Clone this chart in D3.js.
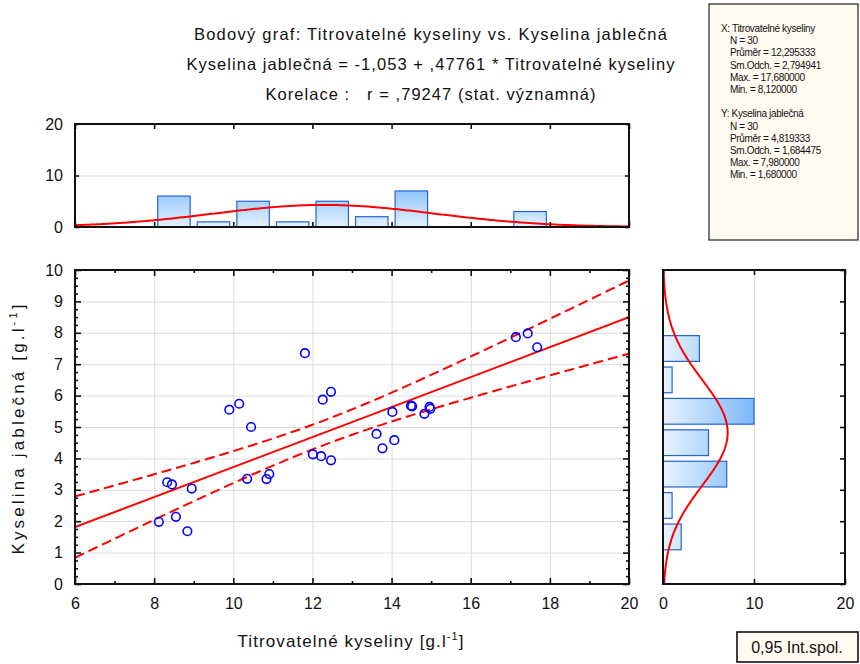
<!DOCTYPE html>
<html>
<head>
<meta charset="utf-8">
<script src="https://cdn.jsdelivr.net/npm/d3@7/dist/d3.min.js"></script>
<style>
  html, body { margin: 0; padding: 0; background: #fff; }
  svg { display: block; font-family: "Liberation Sans", Arial, sans-serif; }
  text { white-space: pre; }
</style>
</head>
<body>
<svg id="chart" width="860" height="664"></svg>
<script>
// Measured pairs: titratable acidity (x) and malic acid (y), g/l
const titrKys = [8.12, 8.33, 8.45, 8.55, 8.84, 8.95, 9.90, 10.15, 10.35, 10.45,
  10.84, 10.91, 11.81, 12.01, 12.22, 12.26, 12.47, 12.47, 13.62, 13.77,
  14.02, 14.07, 14.49, 14.52, 14.83, 14.96, 14.98, 17.14, 17.44, 17.68];
const jablKys = [1.98, 3.24, 3.17, 2.14, 1.68, 3.04, 5.55, 5.74, 3.35, 5.00,
  3.34, 3.50, 7.35, 4.13, 4.07, 5.87, 6.12, 3.94, 4.78, 4.32,
  5.48, 4.58, 5.68, 5.66, 5.42, 5.64, 5.58, 7.86, 7.98, 7.54];

// Regression and descriptive statistics
const intercept = -1.053, slope = 0.47761, corr = 0.79247;
const nObs = 30;
const xStats = { mean: 12.295333, sd: 2.794941, max: 17.68, min: 8.12 };
const yStats = { mean: 4.819333, sd: 1.684475, max: 7.98, min: 1.68 };
const tCrit = 2.0484; // t(0.975, 28)

// Histogram bins (width 1) and counts
const xBinStarts = [8, 9, 10, 11, 12, 13, 14, 15, 16, 17];
const xBinCounts = [6, 1, 5, 1, 5, 2, 7, 0, 0, 3];
const yBinStarts = [1, 2, 3, 4, 5, 6, 7];
const yBinCounts = [2, 1, 7, 5, 10, 1, 4];

// Tick values
const xMajor = [6, 8, 10, 12, 14, 16, 18, 20];
const yMajor = [0, 1, 2, 3, 4, 5, 6, 7, 8, 9, 10];
const histTicks = [0, 10, 20];

const titleLines = [
  "Bodový graf: Titrovatelné kyseliny vs. Kyselina jablečná",
  "Kyselina jablečná = -1,053 + ,47761 * Titrovatelné kyseliny",
  "Korelace :   r = ,79247 (stat. významná)"
];
const titleWidths = [473, 488, 330];
const statLines = [
  ["X: Titrovatelné kyseliny", 0],
  ["N = 30", 1], ["Průměr = 12,295333", 1], ["Sm.Odch. = 2,794941", 1],
  ["Max. = 17,680000", 1], ["Min. = 8,120000", 1],
  ["", 0],
  ["Y: Kyselina jablečná", 0],
  ["N = 30", 1], ["Průměr = 4,819333", 1], ["Sm.Odch. = 1,684475", 1],
  ["Max. = 7,980000", 1], ["Min. = 1,680000", 1]
];

const svg = d3.select("#chart");

const x = d3.scaleLinear().domain([6, 20]).range([75, 629]);
const y = d3.scaleLinear().domain([0, 10]).range([584, 270]);
const hy = d3.scaleLinear().domain([0, 20]).range([227, 124]);
const hx = d3.scaleLinear().domain([0, 20]).range([663, 845]);

const range = (a, b, s) => d3.range(a, b + s / 2, s);

// Spread a text's letters so it spans a given width
function fitWidth(sel, target) {
  const node = sel.node();
  const len = node.getComputedTextLength();
  const n = node.textContent.length;
  if (n > 1) sel.style("letter-spacing", ((target - len) / (n - 1)) + "px");
}

// Gradients for histogram bars
const defs = svg.append("defs");
const gv = defs.append("linearGradient").attr("id", "gradV")
  .attr("gradientUnits", "userSpaceOnUse")
  .attr("x1", 0).attr("x2", 0).attr("y1", hy(0)).attr("y2", hy(7.5));
gv.append("stop").attr("offset", 0).attr("stop-color", "#e3f0ff");
gv.append("stop").attr("offset", 1).attr("stop-color", "#8cc4fa");
const gh = defs.append("linearGradient").attr("id", "gradH")
  .attr("gradientUnits", "userSpaceOnUse")
  .attr("y1", 0).attr("y2", 0).attr("x1", hx(0)).attr("x2", hx(10));
gh.append("stop").attr("offset", 0).attr("stop-color", "#e8f3ff");
gh.append("stop").attr("offset", 1).attr("stop-color", "#7cb9f7");

function styleAxis(g, labels) {
  g.select(".domain").remove();
  g.selectAll(".tick line").attr("stroke", "#111").attr("stroke-width", 1.6);
  g.selectAll(".tick text").attr("fill", "#111").style("font-size", "16px");
  if (!labels) g.selectAll(".tick text").remove();
}
function gridStyle(g) {
  g.select(".domain").remove();
  g.selectAll(".tick line").attr("stroke", "#dcdcdc").attr("stroke-width", 1);
}

// ---------- Title ----------
svg.append("g").selectAll("text").data(titleLines).join("text")
  .attr("x", 431).attr("y", (d, i) => 40 + i * 30)
  .attr("text-anchor", "middle").attr("fill", "#111")
  .style("font-size", "16.5px").text(d => d)
  .each(function (d, i) { fitWidth(d3.select(this), titleWidths[i]); });

// ---------- Top histogram (x) ----------
svg.append("g").attr("transform", `translate(${x(6)},0)`)
  .call(d3.axisLeft(hy).tickValues([10]).tickSize(-(x(20) - x(6))).tickFormat(""))
  .call(gridStyle);

svg.append("g").selectAll("rect").data(xBinStarts.map((s, i) => ({ s, c: xBinCounts[i] })).filter(d => d.c > 0))
  .join("rect")
  .attr("x", d => x(d.s + 0.09)).attr("width", d => x(d.s + 0.91) - x(d.s + 0.09))
  .attr("y", d => hy(d.c)).attr("height", d => hy(0) - hy(d.c))
  .attr("fill", "url(#gradV)").attr("stroke", "#2563d6").attr("stroke-width", 1.2);

const normX = d3.range(6, 20.001, 0.05).map(v => [v,
  nObs * 1 * Math.exp(-0.5 * ((v - xStats.mean) / xStats.sd) ** 2) / (xStats.sd * Math.sqrt(2 * Math.PI))]);
svg.append("path").datum(normX)
  .attr("d", d3.line().x(d => x(d[0])).y(d => hy(d[1])))
  .attr("fill", "none").attr("stroke", "#ff0000").attr("stroke-width", 2);

svg.append("g").attr("transform", `translate(0,${hy(0)})`)
  .call(d3.axisBottom(x).tickValues(xMajor).tickSize(-5)).call(g => styleAxis(g, false));
svg.append("g").attr("transform", `translate(0,${hy(20)})`)
  .call(d3.axisTop(x).tickValues(xMajor).tickSize(-5)).call(g => styleAxis(g, false));
svg.append("g").attr("transform", `translate(${x(6)},0)`)
  .call(d3.axisLeft(hy).tickValues(histTicks).tickSize(-4).tickPadding(12)).call(g => styleAxis(g, true));
svg.append("g").attr("transform", `translate(${x(20)},0)`)
  .call(d3.axisRight(hy).tickValues(histTicks).tickSize(-4)).call(g => styleAxis(g, false));
svg.append("rect").attr("x", x(6)).attr("y", hy(20))
  .attr("width", x(20) - x(6)).attr("height", hy(0) - hy(20))
  .attr("fill", "none").attr("stroke", "#111").attr("stroke-width", 2);

// ---------- Main scatter ----------
svg.append("g").attr("transform", `translate(0,${y(0)})`)
  .call(d3.axisBottom(x).tickValues(xMajor).tickSize(-(y(0) - y(10))).tickFormat(""))
  .call(gridStyle);
svg.append("g").attr("transform", `translate(${x(6)},0)`)
  .call(d3.axisLeft(y).tickValues(yMajor).tickSize(-(x(20) - x(6))).tickFormat(""))
  .call(gridStyle);

// Confidence band for the regression line
const sxx = (nObs - 1) * xStats.sd ** 2;
const sRes = yStats.sd * Math.sqrt(1 - corr ** 2) * Math.sqrt((nObs - 1) / (nObs - 2));
const xs = d3.range(6, 20.001, 0.1);
const fit = v => intercept + slope * v;
const half = v => tCrit * sRes * Math.sqrt(1 / nObs + (v - xStats.mean) ** 2 / sxx);
const lineGen = d3.line().x(d => x(d[0])).y(d => y(d[1]));

const clip = defs.append("clipPath").attr("id", "plotClip");
clip.append("rect").attr("x", x(6)).attr("y", y(10)).attr("width", x(20) - x(6)).attr("height", y(0) - y(10));
const plot = svg.append("g").attr("clip-path", "url(#plotClip)");

plot.append("path").datum(xs.map(v => [v, fit(v) + half(v)]))
  .attr("d", lineGen).attr("fill", "none").attr("stroke", "#ff0000")
  .attr("stroke-width", 2).attr("stroke-dasharray", "10,5");
plot.append("path").datum(xs.map(v => [v, fit(v) - half(v)]))
  .attr("d", lineGen).attr("fill", "none").attr("stroke", "#ff0000")
  .attr("stroke-width", 2).attr("stroke-dasharray", "10,5");
plot.append("path").datum([[6, fit(6)], [20, fit(20)]])
  .attr("d", lineGen).attr("fill", "none").attr("stroke", "#ff0000").attr("stroke-width", 2);

plot.append("g").selectAll("circle").data(titrKys.map((v, i) => [v, jablKys[i]]))
  .join("circle")
  .attr("cx", d => x(d[0])).attr("cy", d => y(d[1])).attr("r", 4.3)
  .attr("fill", "none").attr("stroke", "#0000ff").attr("stroke-width", 1.6);

// Axes of the scatter: major and minor ticks, all inward
svg.append("g").attr("transform", `translate(0,${y(0)})`)
  .call(d3.axisBottom(x).tickValues(range(7, 19, 2)).tickSize(-3)).call(g => styleAxis(g, false));
svg.append("g").attr("transform", `translate(0,${y(0)})`)
  .call(d3.axisBottom(x).tickValues(xMajor).tickSize(-6).tickPadding(14)).call(g => styleAxis(g, true));
svg.append("g").attr("transform", `translate(0,${y(10)})`)
  .call(d3.axisTop(x).tickValues(range(7, 19, 2)).tickSize(-3)).call(g => styleAxis(g, false));
svg.append("g").attr("transform", `translate(0,${y(10)})`)
  .call(d3.axisTop(x).tickValues(xMajor).tickSize(-6)).call(g => styleAxis(g, false));
const yMinor = range(0, 10, 0.25).filter(v => Math.abs(v - Math.round(v)) > 0.01);
svg.append("g").attr("transform", `translate(${x(6)},0)`)
  .call(d3.axisLeft(y).tickValues(yMinor).tickSize(-3)).call(g => styleAxis(g, false));
svg.append("g").attr("transform", `translate(${x(6)},0)`)
  .call(d3.axisLeft(y).tickValues(yMajor).tickSize(-6).tickPadding(12)).call(g => styleAxis(g, true));
svg.append("g").attr("transform", `translate(${x(20)},0)`)
  .call(d3.axisRight(y).tickValues(yMinor).tickSize(-3)).call(g => styleAxis(g, false));
svg.append("g").attr("transform", `translate(${x(20)},0)`)
  .call(d3.axisRight(y).tickValues(yMajor).tickSize(-6)).call(g => styleAxis(g, false));
svg.append("rect").attr("x", x(6)).attr("y", y(10))
  .attr("width", x(20) - x(6)).attr("height", y(0) - y(10))
  .attr("fill", "none").attr("stroke", "#111").attr("stroke-width", 2);

// Axis titles
const xt = svg.append("text").attr("x", 351).attr("y", 647).attr("text-anchor", "middle")
  .attr("fill", "#111").style("font-size", "17px").style("letter-spacing", "1.1px");
xt.append("tspan").text("Titrovatelné kyseliny [g.l");
xt.append("tspan").attr("dy", -7).style("font-size", "11px").text("-1");
xt.append("tspan").attr("dy", 7).text("]");

const yt = svg.append("text").attr("transform", "translate(24,428) rotate(-90)")
  .attr("text-anchor", "middle").attr("fill", "#111").style("font-size", "17px");
yt.append("tspan").text("Kyselina jablečná [g.l");
yt.append("tspan").attr("dy", -7).style("font-size", "11px").text("-1");
yt.append("tspan").attr("dy", 7).text("]");
fitWidth(yt, 250);

// ---------- Right histogram (y) ----------
svg.append("g").attr("transform", `translate(0,${y(0)})`)
  .call(d3.axisBottom(hx).tickValues([10]).tickSize(-(y(0) - y(10))).tickFormat(""))
  .call(gridStyle);

svg.append("g").selectAll("rect").data(yBinStarts.map((s, i) => ({ s, c: yBinCounts[i] })))
  .join("rect")
  .attr("y", d => y(d.s + 0.91)).attr("height", d => y(d.s + 0.09) - y(d.s + 0.91))
  .attr("x", hx(0)).attr("width", d => hx(d.c) - hx(0))
  .attr("fill", "url(#gradH)").attr("stroke", "#2563d6").attr("stroke-width", 1.2);

const normY = d3.range(0, 10.001, 0.05).map(v => [v,
  nObs * 1 * Math.exp(-0.5 * ((v - yStats.mean) / yStats.sd) ** 2) / (yStats.sd * Math.sqrt(2 * Math.PI))]);
svg.append("path").datum(normY)
  .attr("d", d3.line().x(d => hx(d[1])).y(d => y(d[0])))
  .attr("fill", "none").attr("stroke", "#ff0000").attr("stroke-width", 2);

svg.append("g").attr("transform", `translate(0,${y(0)})`)
  .call(d3.axisBottom(hx).tickValues(histTicks).tickSize(-5).tickPadding(14)).call(g => styleAxis(g, true));
svg.append("g").attr("transform", `translate(0,${y(10)})`)
  .call(d3.axisTop(hx).tickValues(histTicks).tickSize(-5)).call(g => styleAxis(g, false));
svg.append("g").attr("transform", `translate(${hx(20)},0)`)
  .call(d3.axisRight(y).tickValues(yMajor).tickSize(-5)).call(g => styleAxis(g, false));
svg.append("rect").attr("x", hx(0)).attr("y", y(10))
  .attr("width", hx(20) - hx(0)).attr("height", y(0) - y(10))
  .attr("fill", "none").attr("stroke", "#111").attr("stroke-width", 2);

// ---------- Statistics box ----------
svg.append("rect").attr("x", 709).attr("y", 4).attr("width", 149).attr("height", 236)
  .attr("fill", "#fffbf0").attr("stroke", "#222").attr("stroke-width", 1.2);
svg.append("g").selectAll("text").data(statLines).join("text")
  .attr("x", d => d[1] ? 730 : 721).attr("y", (d, i) => 32 + i * 12.2)
  .attr("fill", "#111").style("font-size", "10px").style("letter-spacing", "-0.35px")
  .text(d => d[0]);

// ---------- Legend ----------
svg.append("rect").attr("x", 737).attr("y", 632).attr("width", 121).attr("height", 30)
  .attr("fill", "#fffbf0").attr("stroke", "#111").attr("stroke-width", 1.6);
svg.append("text").attr("x", 797).attr("y", 653).attr("text-anchor", "middle")
  .attr("fill", "#111").style("font-size", "16px").text("0,95 Int.spol.");
</script>
</body>
</html>
